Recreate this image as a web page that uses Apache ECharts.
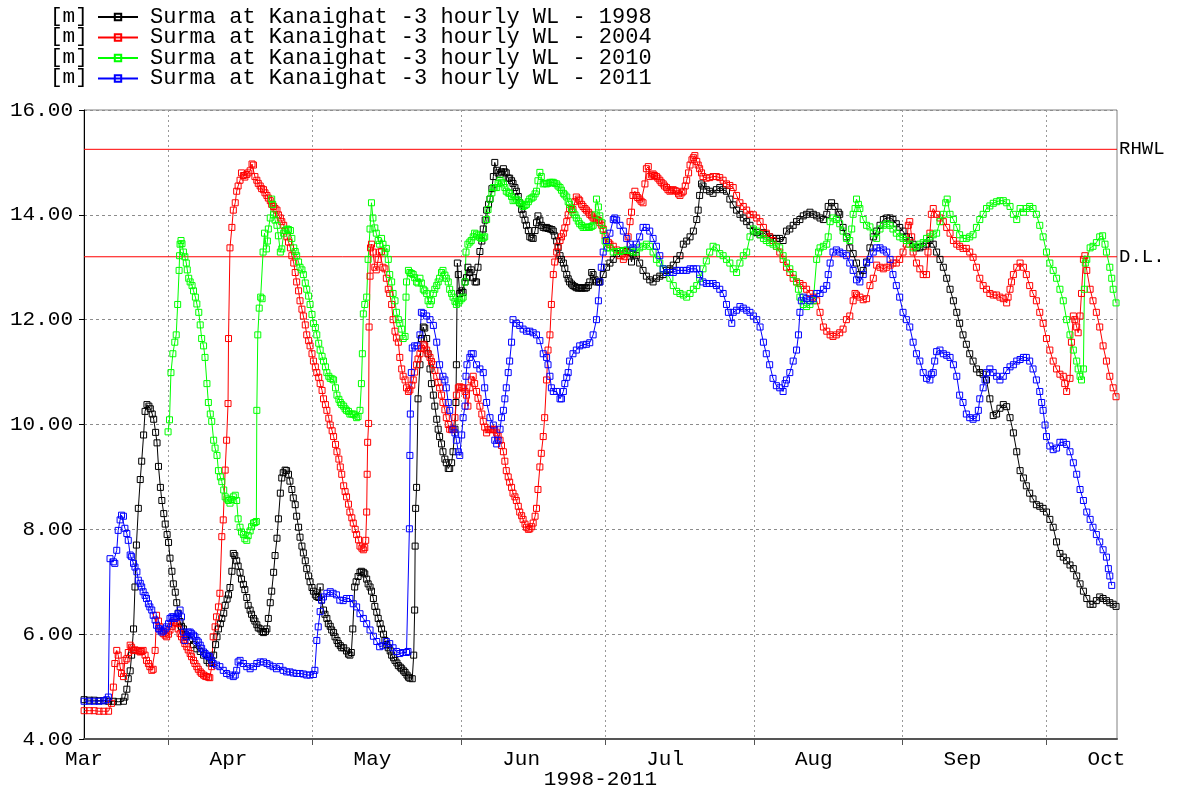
<!DOCTYPE html>
<html>
<head>
<meta charset="utf-8">
<title>Surma at Kanaighat - 3 hourly water level</title>
<script src="https://cdn.jsdelivr.net/npm/echarts@6/dist/echarts.min.js"></script>
<style>
  html, body { margin: 0; padding: 0; background: #ffffff; }
  #chart { width: 1178px; height: 792px; }
</style>
</head>
<body>
<div id="chart"></div>
<script>
// Time axis: days counted from 1 March (overlaid years 1998-2011)
const monthNames = ['Mar', 'Apr', 'May', 'Jun', 'Jul', 'Aug', 'Sep', 'Oct'];
const monthStartDays = [0, 31, 61, 92, 122, 153, 184, 214];
const gridDays = [18.5, 48.5, 79.5, 109.5, 140.5, 171.5, 201.5];
const dayRange = [0.875, 216.2];

// Reference levels [m]
const levelNames = ['RHWL', 'D.L.'];
const levelValues = [15.25, 13.2];
const levelColor = '#ff0000';

const seriesNames = [
  'Surma at Kanaighat -3 hourly WL - 1998',
  'Surma at Kanaighat -3 hourly WL - 2004',
  'Surma at Kanaighat -3 hourly WL - 2010',
  'Surma at Kanaighat -3 hourly WL - 2011'
];
const seriesColors = ['#000000', '#ff0000', '#00ff00', '#0000ff'];

// Water level [m] as [day, level]
const wl1998 = [
[0.9,4.75],[2,4.74],[3,4.74],[4,4.73],[5,4.73],[6,4.72],[7,4.72],[8,4.71],[9.1,4.72],[9.4,4.8],[9.8,4.95],[10.1,5.15],[10.5,5.3],[10.8,5.6],
[11.2,6.1],[11.5,6.9],[11.8,7.7],[12.2,8.4],[12.6,8.95],[12.9,9.3],[13.3,9.8],[13.6,10.25],[14.0,10.38],[14.4,10.35],[14.7,10.3],[15.1,10.2],
[15.4,10.1],[15.8,9.85],[16.1,9.65],[16.4,9.2],[16.8,8.8],[17.1,8.55],[17.5,8.3],[17.8,8.1],[18.2,7.9],[18.5,7.75],[18.8,7.45],[19.2,7.2],
[19.5,6.96],[19.9,6.8],[20.2,6.6],[20.5,6.4],[20.9,6.24],[21.2,6.15],[21.6,6.1],[22.0,6.0],[22.3,5.96],[22.9,5.88],[23.7,5.8],[24.4,5.72],
[25.1,5.67],[25.8,5.6],[26.5,5.5],[27.0,5.45],[27.5,5.45],[27.9,5.6],[28.3,5.8],[28.6,5.95],[28.9,6.1],[29.3,6.2],[29.6,6.3],[30.0,6.4],
[30.3,6.55],[30.7,6.67],[31.0,6.75],[31.3,6.89],[31.7,7.2],[32.0,7.54],[32.3,7.5],[32.7,7.4],[33.0,7.3],[33.4,7.18],[33.7,7.05],[34.1,6.95],
[34.4,6.85],[34.8,6.7],[35.1,6.55],[35.5,6.46],[35.8,6.38],[36.2,6.3],[36.5,6.25],[36.9,6.18],[37.2,6.12],[37.6,6.1],[38.0,6.05],[38.3,6.03],
[38.7,6.05],[39.0,6.1],[39.3,6.3],[39.7,6.6],[40.0,6.82],[40.4,7.18],[40.7,7.5],[41.1,7.83],[41.4,8.2],[41.8,8.69],[42.1,8.98],[42.4,9.08],
[42.8,9.13],[43.1,9.12],[43.5,9.05],[43.8,8.92],[44.2,8.76],[44.5,8.6],[44.9,8.47],[45.2,8.25],[45.6,8.04],[45.9,7.85],[46.3,7.68],[46.6,7.55],
[47.0,7.4],[47.3,7.25],[47.7,7.11],[48.0,7.0],[48.4,6.89],[48.7,6.82],[49.1,6.75],[49.4,6.72],[49.8,6.7],[50.1,6.9],[50.4,6.65],[50.8,6.46],
[51.1,6.38],[51.5,6.3],[51.8,6.2],[52.2,6.15],[52.5,6.08],[52.9,6.03],[53.2,5.95],[53.6,5.88],[53.9,5.82],[54.3,5.78],[54.6,5.74],[55.0,5.74],
[55.6,5.68],[56.0,5.62],[56.3,5.6],[56.6,5.65],[56.9,6.1],[57.3,6.9],[57.6,7.0],[58.0,7.1],[58.4,7.18],[58.7,7.2],[59.1,7.18],[59.4,7.15],
[59.8,7.05],[60.1,6.96],[60.5,6.9],[60.8,6.82],[61.2,6.68],[61.5,6.53],[61.9,6.42],[62.2,6.3],[62.6,6.2],[62.9,6.1],[63.3,6.0],[63.6,5.88],
[64.0,5.8],[64.3,5.74],[64.7,5.68],[65.0,5.6],[65.4,5.55],[65.7,5.5],[66.1,5.45],[66.4,5.4],[66.8,5.37],[67.1,5.34],[67.5,5.3],[67.8,5.27],
[68.2,5.22],[68.5,5.18],[68.8,5.16],[69.3,5.15],[69.6,5.6],[69.8,6.46],[69.9,7.68],[70.0,8.4],[70.2,8.8],[70.5,10.49],[70.9,11.14],[71.2,11.64],
[71.6,11.86],[71.9,11.84],[72.3,11.64],[72.6,11.35],[73.0,11.06],[73.3,10.78],[73.7,10.56],[74.0,10.35],[74.4,10.1],[74.7,9.91],[75.0,9.77],
[75.4,9.63],[75.7,9.48],[76.1,9.34],[76.4,9.27],[76.8,9.16],[77.1,9.16],[77.5,9.27],[77.8,9.48],[78.2,9.91],[78.4,10.42],[78.5,11.14],
[78.7,13.08],[78.9,12.86],[79.2,12.5],[79.6,12.55],[79.9,12.52],[80.3,12.72],[80.6,12.8],[80.9,13.0],[81.3,12.9],[81.6,12.95],[82.0,12.8],
[82.4,12.72],[82.7,12.72],[83.0,13.0],[83.4,13.3],[83.8,13.5],[84.1,13.73],[84.5,13.9],[84.8,14.09],[85.2,14.2],[85.5,14.3],[85.9,14.5],
[86.2,14.73],[86.5,15.0],[86.9,14.85],[87.2,14.8],[87.6,14.77],[87.9,14.82],[88.3,14.88],[88.6,14.82],[88.9,14.8],[89.3,14.7],[89.6,14.7],
[90.0,14.65],[90.3,14.6],[90.7,14.52],[91.0,14.45],[91.4,14.35],[91.7,14.23],[92.1,14.1],[92.4,14.01],[92.8,13.9],[93.1,13.8],[93.5,13.7],
[93.8,13.58],[94.2,13.56],[94.5,13.55],[94.9,13.7],[95.2,13.85],[95.5,13.98],[95.9,13.9],[96.2,13.8],[96.6,13.76],[97.0,13.75],[97.3,13.76],
[97.6,13.74],[98.0,13.73],[98.4,13.72],[98.7,13.69],[99.0,13.6],[99.4,13.5],[99.7,13.37],[100.1,13.22],[100.4,13.15],[100.8,13.08],[101.1,12.98],
[101.5,12.86],[101.8,12.78],[102.1,12.72],[102.5,12.68],[102.8,12.65],[103.2,12.63],[103.5,12.61],[103.9,12.6],[104.2,12.61],[104.6,12.6],
[104.9,12.61],[105.3,12.6],[105.6,12.61],[106.0,12.65],[106.3,12.72],[106.7,12.9],[107.0,12.86],[107.4,12.76],[107.7,12.72],[108.1,12.72],
[108.4,12.72],[109.1,12.86],[109.8,13.0],[110.5,13.08],[111.2,13.15],[111.9,13.26],[112.6,13.3],[113.3,13.32],[114.0,13.3],[114.7,13.28],
[115.0,13.1],[115.3,13.25],[116.0,13.22],[116.7,13.08],[117.4,12.94],[118.1,12.83],[118.8,12.76],[119.5,12.72],[120.2,12.79],[120.9,12.83],
[121.6,12.86],[122.3,12.94],[123.0,12.97],[123.7,13.04],[124.4,13.15],[125.1,13.22],[125.8,13.44],[126.5,13.5],[127.2,13.58],[127.9,13.69],
[128.6,13.91],[128.9,14.09],[129.2,14.37],[129.6,14.59],[129.9,14.55],[130.6,14.48],[131.3,14.45],[132.0,14.41],[132.7,14.48],[133.4,14.52],
[134.1,14.48],[134.8,14.45],[135.5,14.3],[136.2,14.19],[136.9,14.09],[137.6,14.01],[138.3,13.94],[139.0,13.87],[139.7,13.8],[140.4,13.69],
[141.1,13.66],[141.8,13.62],[142.5,13.66],[143.1,13.62],[143.8,13.58],[144.5,13.55],[145.2,13.55],[145.9,13.55],[146.6,13.51],[147.3,13.69],
[148.0,13.73],[148.7,13.8],[149.4,13.87],[150.1,13.91],[150.8,13.98],[151.5,14.01],[152.2,14.05],[152.9,14.01],[153.6,13.98],[154.3,13.94],
[155.0,13.91],[155.7,14.01],[156.0,14.16],[156.7,14.23],[157.4,14.16],[158.1,14.05],[158.4,14.01],[159.1,13.76],[159.8,13.58],[160.5,13.37],
[161.2,13.26],[161.9,13.08],[162.6,12.86],[163.3,12.94],[164.0,13.1],[164.7,13.37],[165.4,13.58],[166.1,13.69],[166.8,13.8],[167.5,13.91],
[168.2,13.94],[168.9,13.94],[169.5,13.91],[170.2,13.83],[170.9,13.76],[171.6,13.69],[172.3,13.58],[173.0,13.51],[173.7,13.44],[174.4,13.37],
[175.1,13.37],[175.8,13.4],[176.5,13.44],[177.2,13.51],[177.9,13.44],[178.6,13.29],[179.3,13.15],[180.0,13.0],[180.7,12.79],[181.4,12.58],
[182.1,12.36],[182.8,12.14],[183.4,11.93],[184.1,11.71],[184.8,11.53],[185.5,11.35],[186.2,11.21],[186.9,11.06],[187.6,10.99],[188.3,10.96],
[189.0,10.85],[189.7,10.49],[190.4,10.17],[191.1,10.2],[191.8,10.31],[192.5,10.38],[193.2,10.34],[193.9,10.13],[194.6,9.84],[195.3,9.48],
[196.0,9.12],[196.7,8.98],[197.3,8.83],[198.0,8.69],[198.7,8.58],[199.4,8.47],[200.1,8.44],[200.8,8.4],[201.5,8.33],[202.2,8.19],[202.9,8.04],
[203.6,7.76],[204.3,7.54],[205.0,7.47],[205.7,7.4],[206.4,7.32],[207.1,7.25],[207.8,7.11],[208.5,6.96],[209.2,6.82],[209.9,6.68],[210.6,6.57],
[211.2,6.57],[211.9,6.64],[212.6,6.71],[213.3,6.68],[214.0,6.64],[214.7,6.6],[215.4,6.57],[216.0,6.53]
];

const wl2004 = [
[0.9,4.54],[2,4.54],[3,4.54],[4,4.53],[5,4.53],[6,4.53],[6.6,4.68],[7.0,4.99],[7.3,5.44],[7.7,5.69],[8.0,5.6],[8.4,5.38],[8.7,5.25],[9.1,5.19],
[9.4,5.5],[9.8,5.53],[10.1,5.65],[10.5,5.79],[10.8,5.75],[11.2,5.69],[11.5,5.7],[11.9,5.69],[12.2,5.68],[12.6,5.66],[12.9,5.67],[13.2,5.69],
[13.6,5.6],[13.9,5.5],[14.3,5.44],[14.6,5.38],[15.0,5.31],[15.3,5.33],[15.7,5.69],[16.0,6.36],[16.4,6.25],[16.7,6.14],[17.1,6.06],[17.4,6.01],
[17.8,5.98],[18.1,5.95],[18.5,6.0],[18.8,6.08],[19.2,6.15],[19.5,6.23],[19.8,6.22],[20.2,6.2],[20.5,6.1],[20.9,6.01],[21.2,5.95],[21.6,5.89],
[21.9,5.82],[22.3,5.76],[22.6,5.7],[23.0,5.63],[23.3,5.57],[23.7,5.5],[24.0,5.44],[24.4,5.38],[24.7,5.33],[25.1,5.28],[25.4,5.25],[25.8,5.22],
[26.1,5.2],[26.4,5.19],[26.8,5.18],[27.1,5.17],[27.5,5.38],[27.8,5.95],[28.2,6.14],[28.5,6.33],[28.9,6.52],[29.2,6.78],[29.6,7.86],[29.9,8.18],
[30.3,9.13],[30.6,9.7],[30.9,10.4],[31.0,11.64],[31.3,13.37],[31.7,13.76],[32.0,14.09],[32.4,14.23],[32.7,14.45],[33.0,14.55],[33.4,14.66],
[33.7,14.8],[34.1,14.75],[34.4,14.72],[34.8,14.77],[35.1,14.8],[35.5,14.84],[35.9,14.97],[36.2,14.95],[36.5,14.73],[36.9,14.66],[37.2,14.6],
[37.6,14.55],[37.9,14.5],[38.3,14.48],[38.6,14.42],[39.0,14.37],[39.3,14.32],[39.7,14.27],[40.0,14.2],[40.4,14.16],[40.7,14.12],[41.1,14.09],
[41.4,14.0],[41.8,13.94],[42.1,13.87],[42.5,13.8],[42.8,13.7],[43.2,13.58],[43.5,13.48],[43.9,13.37],[44.2,13.22],[44.6,13.08],[44.9,12.9],
[45.2,12.72],[45.6,12.55],[45.9,12.36],[46.3,12.2],[46.6,12.07],[47.0,11.9],[47.3,11.71],[47.7,11.6],[48.0,11.5],[48.4,11.35],[48.7,11.21],
[49.1,11.1],[49.4,10.99],[49.8,10.9],[50.1,10.78],[50.5,10.65],[50.8,10.49],[51.2,10.38],[51.5,10.27],[51.9,10.12],[52.2,9.99],[52.6,9.88],
[52.9,9.77],[53.3,9.62],[53.6,9.48],[54.0,9.34],[54.3,9.19],[54.6,9.05],[55.0,8.83],[55.3,8.72],[55.6,8.62],[56.0,8.48],[56.3,8.33],[56.7,8.22],
[57.0,8.12],[57.4,8.0],[57.7,7.9],[58.1,7.8],[58.4,7.68],[58.8,7.64],[59.1,7.61],[59.4,7.65],[59.6,7.79],[59.8,8.33],[59.9,9.05],[60.0,9.66],
[60.2,10.02],[60.3,11.86],[60.5,12.83],[60.6,13.37],[60.8,13.44],[61.1,13.29],[61.5,13.0],[61.8,12.95],[62.2,13.15],[62.5,13.29],[62.9,13.3],
[63.2,13.0],[63.6,12.97],[63.9,12.79],[64.3,12.58],[64.6,12.5],[65.0,12.29],[65.3,12.0],[65.7,11.78],[66.0,11.65],[66.4,11.57],[66.7,11.28],
[67.1,11.06],[67.4,10.92],[67.8,10.85],[68.1,10.7],[68.5,10.63],[68.8,10.66],[69.2,10.75],[69.5,10.85],[69.8,11.0],[70.2,11.14],[70.5,11.25],
[70.9,11.35],[71.2,11.45],[71.6,11.53],[71.9,11.5],[72.3,11.42],[72.6,11.35],[73.0,11.28],[73.3,11.2],[73.7,11.14],[74.0,11.03],[74.4,10.92],
[74.7,10.8],[75.0,10.7],[75.4,10.56],[75.7,10.42],[76.1,10.28],[76.4,10.13],[76.8,10.0],[77.1,9.91],[77.5,9.9],[77.8,9.91],[78.2,10.13],
[78.5,10.56],[78.9,10.7],[79.2,10.72],[79.6,10.7],[79.9,10.7],[80.3,10.63],[80.6,10.56],[80.9,10.35],[81.3,10.7],[81.6,10.85],[82.0,10.92],
[82.3,10.78],[82.7,10.63],[83.0,10.5],[83.4,10.35],[83.8,10.2],[84.1,10.06],[84.4,9.95],[84.8,9.84],[85.1,9.9],[85.5,9.91],[85.9,9.9],
[86.2,9.91],[86.5,9.9],[86.9,9.84],[87.2,9.78],[87.6,9.7],[87.9,9.6],[88.3,9.48],[88.6,9.3],[88.9,9.12],[89.3,9.0],[89.6,8.9],[90.0,8.8],
[90.3,8.69],[90.7,8.62],[91.0,8.55],[91.4,8.44],[91.7,8.33],[92.1,8.26],[92.4,8.19],[92.8,8.1],[93.1,8.04],[93.5,8.0],[93.8,8.01],[94.2,8.05],
[94.5,8.12],[94.9,8.25],[95.2,8.4],[95.5,8.76],[95.9,9.19],[96.2,9.45],[96.6,9.77],[96.9,10.13],[97.3,10.85],[97.6,11.42],[98.0,11.71],
[98.3,12.29],[98.7,12.86],[99.0,13.1],[99.4,13.29],[99.7,13.4],[100.1,13.51],[100.4,13.58],[100.8,13.65],[101.1,13.75],[101.5,13.87],
[101.8,14.0],[102.1,14.12],[102.5,14.1],[102.8,14.1],[103.2,14.25],[103.5,14.34],[103.9,14.3],[104.2,14.27],[104.6,14.2],[104.9,14.16],
[105.3,14.12],[105.6,14.09],[106.0,14.05],[106.3,14.01],[106.7,13.98],[107.0,13.94],[107.4,13.92],[107.7,13.91],[108.1,13.89],[108.4,13.85],
[108.8,13.8],[109.1,13.73],[109.5,13.6],[109.8,13.51],[110.2,13.47],[110.5,13.44],[111.2,13.4],[111.9,13.33],[112.6,13.22],[113.3,13.15],
[113.6,13.2],[114.0,13.29],[114.3,13.58],[114.7,13.87],[115.0,14.05],[115.3,14.37],[115.7,14.45],[116.0,14.37],[116.3,14.33],[116.7,14.3],
[117.0,14.26],[117.4,14.23],[117.8,14.59],[118.1,14.88],[118.5,14.92],[118.8,14.73],[119.2,14.76],[119.5,14.78],[119.8,14.75],[120.2,14.73],
[120.5,14.7],[120.9,14.66],[121.2,14.62],[121.6,14.59],[121.9,14.55],[122.3,14.52],[122.6,14.48],[123.0,14.45],[123.3,14.47],[123.7,14.48],
[124.1,14.46],[124.4,14.45],[124.8,14.4],[125.1,14.37],[125.5,14.42],[125.8,14.45],[126.2,14.55],[126.5,14.66],[126.9,14.8],[127.2,14.95],
[127.6,15.05],[127.9,15.09],[128.2,15.13],[128.6,15.02],[128.9,14.95],[129.2,14.88],[129.6,14.8],[129.9,14.73],[130.6,14.7],[131.3,14.71],
[132.0,14.73],[132.7,14.73],[133.4,14.71],[134.1,14.66],[134.8,14.59],[135.5,14.56],[136.2,14.52],[136.9,14.37],[137.6,14.23],[138.3,14.16],
[139.0,14.09],[139.7,14.01],[140.4,14.0],[141.1,13.94],[141.8,13.87],[142.5,13.76],[143.1,13.65],[143.8,13.58],[144.5,13.51],[145.2,13.4],
[145.9,13.29],[146.6,13.15],[147.3,13.0],[148.0,12.9],[148.7,12.79],[149.4,12.72],[150.1,12.69],[150.8,12.65],[151.5,12.58],[152.2,12.5],
[152.9,12.43],[153.6,12.36],[154.3,12.14],[155.0,11.86],[155.7,11.78],[156.4,11.71],[157.0,11.68],[157.7,11.71],[158.4,11.75],[159.1,11.82],
[159.8,12.0],[160.5,12.07],[161.2,12.36],[161.6,12.5],[161.9,12.47],[162.6,12.43],[163.3,12.38],[164.0,12.4],[164.7,12.65],[165.4,12.79],
[166.1,13.04],[166.8,13.0],[167.5,12.97],[168.2,13.0],[168.9,13.04],[169.5,13.08],[170.2,13.08],[170.9,13.15],[171.6,13.29],[172.3,13.44],
[172.7,13.8],[173.0,13.87],[173.4,13.58],[173.7,13.29],[174.4,13.08],[175.1,12.97],[175.8,12.86],[176.5,12.86],[176.8,13.29],[177.2,13.65],
[177.5,14.01],[177.9,14.12],[178.6,14.01],[179.3,13.94],[180.0,13.87],[180.7,13.76],[181.4,13.65],[182.1,13.51],[182.8,13.44],[183.4,13.4],
[184.1,13.36],[184.8,13.36],[185.5,13.29],[186.2,13.19],[186.9,13.0],[187.6,12.79],[188.3,12.65],[189.0,12.58],[189.7,12.5],[190.4,12.47],
[191.1,12.47],[191.8,12.43],[192.5,12.4],[193.2,12.32],[193.5,12.43],[193.9,12.58],[194.2,12.72],[194.6,12.86],[195.3,13.0],[196.0,13.08],
[196.7,13.0],[197.3,12.86],[198.0,12.65],[198.7,12.5],[199.4,12.36],[200.1,12.14],[200.8,11.93],[201.5,11.64],[202.2,11.42],[202.9,11.21],
[203.6,11.06],[204.3,10.96],[205.0,10.92],[205.3,10.78],[205.7,10.63],[206.4,10.88],[206.7,11.57],[207.1,12.07],[207.4,12.0],[207.8,11.86],
[208.1,11.75],[208.5,12.07],[208.8,12.5],[209.2,13.15],[209.5,13.22],[209.9,12.94],[210.6,12.58],[211.2,12.36],[211.9,12.14],[212.6,11.86],
[213.3,11.5],[214.0,11.21],[214.7,10.92],[215.4,10.7],[216.0,10.53]
];

const wl2010 = [
[18.4,9.86],[18.7,10.09],[19.0,10.99],[19.4,11.35],[19.8,11.57],[20.1,11.71],[20.4,12.29],[20.7,12.94],[20.8,13.22],[20.9,13.44],[21.1,13.51],
[21.3,13.45],[21.6,13.29],[21.9,13.2],[22.2,13.08],[22.4,12.95],[22.7,12.79],[23.0,12.72],[23.4,12.65],[23.7,12.55],[24.1,12.43],[24.4,12.3],
[24.8,12.14],[25.1,11.9],[25.4,11.64],[25.8,11.5],[26.1,11.28],[26.5,10.78],[26.8,10.42],[27.2,10.2],[27.5,10.06],[27.9,9.7],[28.2,9.55],
[28.6,9.41],[28.9,9.12],[29.3,9.0],[29.6,8.91],[30.0,8.75],[30.3,8.62],[30.7,8.58],[31.0,8.55],[31.3,8.5],[31.7,8.57],[32.0,8.62],[32.4,8.65],
[32.7,8.55],[33.0,8.2],[33.4,8.04],[33.7,7.95],[34.1,7.9],[34.4,7.82],[34.8,7.79],[35.1,7.88],[35.5,7.97],[35.8,8.05],[36.2,8.12],[36.5,8.13],
[36.8,8.15],[36.9,10.27],[37.1,11.71],[37.4,12.22],[37.7,12.43],[38.0,12.4],[38.2,13.29],[38.5,13.65],[38.9,13.35],[39.1,13.5],[39.3,13.73],
[39.7,13.94],[40.0,14.3],[40.2,14.2],[40.4,14.0],[40.7,13.9],[41.1,13.8],[41.4,13.6],[41.8,13.29],[42.1,13.35],[42.5,13.65],[42.8,13.7],
[43.2,13.73],[43.5,13.72],[43.9,13.7],[44.2,13.55],[44.6,13.37],[44.9,13.3],[45.2,13.22],[45.6,13.1],[45.9,13.0],[46.3,12.95],[46.6,12.86],
[47.0,12.7],[47.3,12.58],[47.7,12.45],[48.0,12.29],[48.4,12.1],[48.7,11.93],[49.1,11.85],[49.4,11.71],[49.8,11.55],[50.1,11.42],[50.5,11.3],
[50.8,11.21],[51.2,11.1],[51.5,10.99],[51.9,10.92],[52.2,10.88],[52.6,10.87],[52.9,10.85],[53.3,10.7],[53.6,10.56],[54.0,10.48],[54.3,10.42],
[54.6,10.38],[55.0,10.35],[55.3,10.3],[55.6,10.27],[56.0,10.25],[56.3,10.2],[56.7,10.2],[57.0,10.2],[57.4,10.18],[57.7,10.13],[58.0,10.15],
[58.4,10.27],[58.7,10.78],[58.9,11.35],[59.1,12.11],[59.4,12.29],[59.8,12.43],[60.1,13.15],[60.5,13.73],[60.8,14.23],[61.1,13.94],[61.5,13.75],
[61.8,13.65],[62.2,13.51],[62.5,13.44],[62.9,13.55],[63.2,13.44],[63.6,13.29],[63.9,13.36],[64.3,13.15],[64.6,12.86],[65.0,12.72],[65.3,12.5],
[65.7,12.36],[66.0,12.14],[66.4,12.0],[66.7,11.93],[67.1,11.82],[67.4,11.64],[67.8,11.68],[68.0,12.43],[68.1,12.72],[68.5,12.94],[68.8,12.9],
[69.2,12.88],[69.5,12.86],[69.8,12.8],[70.2,12.72],[70.5,12.7],[70.9,12.79],[71.2,12.7],[71.6,12.58],[71.9,12.55],[72.3,12.5],[72.6,12.36],
[73.0,12.29],[73.3,12.36],[73.7,12.5],[74.0,12.58],[74.4,12.65],[74.7,12.72],[75.0,12.79],[75.4,12.9],[75.7,12.94],[76.1,12.85],[76.4,12.79],
[76.8,12.72],[77.1,12.58],[77.5,12.5],[77.8,12.43],[78.2,12.35],[78.5,12.29],[78.9,12.32],[79.2,12.36],[79.6,12.4],[79.9,12.43],[80.3,12.72],
[80.5,13.29],[80.9,13.44],[81.3,13.48],[81.6,13.51],[82.0,13.58],[82.3,13.65],[82.7,13.63],[83.0,13.6],[83.4,13.57],[83.7,13.55],[84.1,13.56],
[84.4,13.58],[84.8,13.91],[85.1,14.1],[85.5,14.3],[85.9,14.42],[86.2,14.52],[86.5,14.52],[86.9,14.52],[87.2,14.6],[87.6,14.66],[87.9,14.62],
[88.3,14.59],[88.6,14.52],[88.9,14.45],[89.3,14.42],[89.6,14.41],[90.0,14.35],[90.3,14.27],[90.7,14.28],[91.0,14.3],[91.4,14.27],[91.7,14.23],
[92.1,14.2],[92.4,14.16],[92.8,14.18],[93.1,14.2],[93.5,14.25],[93.8,14.3],[94.2,14.32],[94.5,14.34],[94.9,14.4],[95.2,14.45],[95.5,14.65],
[95.9,14.81],[96.2,14.73],[96.6,14.59],[96.9,14.6],[97.3,14.59],[97.6,14.6],[98.0,14.62],[98.4,14.62],[98.7,14.62],[99.0,14.6],[99.4,14.59],
[99.7,14.55],[100.1,14.52],[100.4,14.47],[100.8,14.41],[101.1,14.38],[101.5,14.34],[101.8,14.25],[102.1,14.2],[102.5,14.12],[102.8,14.05],
[103.2,14.0],[103.5,13.94],[103.9,13.88],[104.2,13.83],[104.6,13.8],[104.9,13.76],[105.3,13.76],[105.6,13.76],[106.0,13.77],[106.3,13.76],
[106.7,13.78],[107.0,13.8],[107.4,14.0],[107.7,14.3],[108.1,14.15],[108.4,13.98],[108.8,13.85],[109.1,13.7],[109.5,13.5],[109.8,13.37],
[110.5,13.37],[111.2,13.29],[111.9,13.3],[112.6,13.3],[113.3,13.32],[114.0,13.33],[114.7,13.32],[115.3,13.29],[116.0,13.29],[116.7,13.37],
[117.4,13.4],[118.1,13.44],[118.8,13.4],[119.5,13.29],[120.2,13.15],[120.9,13.08],[121.6,12.97],[122.3,12.9],[123.0,12.79],[123.7,12.65],
[124.4,12.54],[125.1,12.5],[125.8,12.47],[126.5,12.43],[127.2,12.5],[127.9,12.58],[128.6,12.65],[129.2,12.79],[129.9,12.97],[130.6,13.12],
[131.3,13.29],[132.0,13.4],[132.7,13.37],[133.4,13.26],[134.1,13.22],[134.8,13.15],[135.5,13.08],[136.2,12.97],[136.9,12.9],[137.6,13.08],
[138.3,13.22],[139.0,13.29],[139.7,13.58],[140.4,13.73],[141.1,13.69],[141.8,13.62],[142.5,13.55],[143.1,13.51],[143.8,13.47],[144.5,13.44],
[145.2,13.4],[145.9,13.37],[146.6,13.22],[147.3,13.08],[148.0,12.97],[148.7,12.86],[149.4,12.72],[149.8,12.58],[150.1,12.43],[150.8,12.29],
[151.5,12.25],[152.2,12.29],[152.9,12.36],[153.6,13.15],[154.0,13.29],[154.3,13.37],[155.0,13.4],[155.7,13.44],[156.0,13.58],[156.4,13.87],
[157.0,13.94],[157.7,13.91],[158.4,13.83],[159.1,13.69],[159.8,13.55],[160.5,13.51],[160.9,13.73],[161.2,14.01],[161.6,14.12],[161.9,14.3],
[162.3,14.2],[162.6,14.12],[163.3,13.91],[164.0,13.8],[164.7,13.77],[165.4,13.65],[166.1,13.55],[166.8,13.73],[167.5,13.8],[168.2,13.83],
[168.9,13.8],[169.5,13.73],[170.2,13.65],[170.9,13.58],[171.6,13.55],[172.3,13.51],[173.0,13.44],[173.7,13.37],[174.4,13.4],[175.1,13.44],
[175.8,13.47],[176.5,13.55],[177.2,13.58],[177.9,13.62],[178.6,13.65],[179.3,13.87],[180.0,14.01],[180.5,14.23],[180.8,14.3],[181.4,14.01],
[182.1,13.91],[182.8,13.76],[183.4,13.62],[184.1,13.55],[184.8,13.55],[185.5,13.58],[186.2,13.62],[186.9,13.76],[187.6,13.91],[188.3,14.01],
[189.0,14.12],[189.7,14.17],[190.4,14.22],[191.1,14.25],[191.8,14.27],[192.5,14.27],[193.2,14.23],[193.9,14.16],[194.6,14.01],[195.3,13.91],
[196.0,14.12],[196.7,14.05],[197.3,14.12],[198.0,14.16],[198.7,14.12],[199.4,14.01],[200.1,13.8],[200.8,13.58],[201.5,13.29],[202.2,13.08],
[202.9,12.94],[203.6,12.79],[204.3,12.58],[205.0,12.36],[205.7,12.0],[206.4,11.71],[207.1,11.42],[207.8,11.21],[208.1,11.06],[208.5,10.92],
[208.8,10.85],[209.2,11.06],[209.4,12.58],[209.6,13.08],[209.9,13.15],[210.6,13.37],[211.2,13.4],[211.9,13.47],[212.6,13.58],[213.2,13.6],
[213.7,13.44],[214.0,13.29],[214.7,13.0],[215.1,12.79],[215.4,12.58],[216.0,12.32]
];

const wl2011 = [
[0.9,4.72],[2,4.72],[3,4.72],[4,4.72],[5,4.73],[5.6,4.75],[5.95,4.8],[6.3,7.44],[7.0,7.38],[7.3,7.35],[7.7,7.6],[8.0,7.98],[8.4,8.18],
[8.7,8.27],[9.1,8.25],[9.4,8.02],[9.8,7.92],[10.1,7.79],[10.5,7.51],[10.8,7.48],[11.2,7.35],[11.5,7.28],[11.9,7.19],[12.2,7.03],[12.6,6.97],
[12.9,6.9],[13.2,6.81],[13.6,6.74],[13.9,6.68],[14.3,6.58],[14.6,6.52],[15.0,6.46],[15.3,6.36],[15.7,6.27],[16.0,6.17],[16.4,6.11],[16.7,6.08],
[17.1,6.04],[17.4,6.06],[17.8,6.1],[18.1,6.14],[18.5,6.2],[18.8,6.3],[19.2,6.33],[19.5,6.33],[19.8,6.3],[20.2,6.33],[20.5,6.39],[20.9,6.46],
[21.2,6.33],[21.6,6.04],[21.9,5.88],[22.3,5.95],[22.6,6.04],[23.0,6.04],[23.3,6.01],[23.7,5.98],[24.0,5.95],[24.4,5.88],[24.7,5.85],[25.1,5.79],
[25.4,5.73],[25.8,5.66],[26.1,5.63],[26.4,5.6],[26.8,5.58],[27.1,5.57],[27.5,5.5],[27.8,5.44],[28.5,5.41],[29.2,5.38],[29.9,5.31],[30.6,5.25],
[31.3,5.22],[32.0,5.19],[32.4,5.22],[32.7,5.31],[33.0,5.47],[33.4,5.5],[34.1,5.44],[34.8,5.38],[35.5,5.34],[36.2,5.38],[36.9,5.44],[37.6,5.47],
[38.3,5.47],[39.0,5.44],[39.6,5.41],[40.3,5.38],[41.0,5.34],[41.7,5.38],[42.4,5.31],[43.1,5.28],[43.8,5.28],[44.5,5.26],[45.2,5.25],[45.9,5.25],
[46.6,5.24],[47.3,5.22],[48.0,5.22],[48.7,5.23],[49.0,5.31],[49.4,5.88],[49.7,6.14],[50.1,6.43],[50.4,6.65],[50.8,6.71],[51.5,6.78],[52.2,6.81],
[52.8,6.78],[53.5,6.75],[54.2,6.65],[54.9,6.64],[55.6,6.68],[56.3,6.68],[57.0,6.58],[57.7,6.52],[58.4,6.39],[59.1,6.3],[59.8,6.2],[60.5,6.08],
[61.2,5.96],[61.9,5.86],[62.5,5.76],[63.2,5.78],[63.9,5.86],[64.6,5.82],[65.3,5.74],[66.0,5.67],[66.7,5.63],[67.4,5.65],[68.1,5.65],[68.4,5.67],
[68.7,8.01],[68.8,9.41],[68.9,10.2],[69.1,10.99],[69.3,11.46],[69.8,11.5],[70.3,11.5],[70.9,11.71],[71.2,12.14],[71.6,12.12],[72.3,12.07],
[73.0,12.0],[73.7,11.89],[74.4,11.57],[75.0,11.14],[75.7,10.92],[76.1,10.85],[76.4,10.7],[76.8,10.42],[77.1,10.27],[77.8,9.91],[78.2,9.84],
[78.5,9.7],[78.9,9.48],[79.2,9.41],[79.6,9.8],[79.9,10.13],[80.3,10.35],[80.5,10.92],[80.7,11.14],[81.3,11.28],[81.6,11.35],[82.0,11.35],
[82.7,11.14],[83.4,11.06],[84.1,10.99],[84.4,10.7],[84.8,10.42],[85.5,10.13],[86.2,9.99],[86.5,9.7],[86.9,9.63],[87.2,9.7],[87.6,9.91],
[87.9,10.13],[88.3,10.27],[88.6,10.49],[88.9,10.7],[89.3,10.99],[89.6,11.21],[90.0,11.57],[90.3,12.0],[91.0,11.93],[91.7,11.89],[92.4,11.82],
[93.1,11.78],[93.8,11.78],[94.5,11.75],[95.2,11.71],[95.9,11.6],[96.6,11.35],[97.3,11.28],[97.6,11.14],[98.0,10.92],[98.3,10.7],[98.7,10.63],
[99.4,10.63],[100.1,10.49],[100.4,10.49],[100.8,10.63],[101.1,10.78],[101.5,10.9],[101.8,10.99],[102.1,11.21],[102.8,11.35],[103.5,11.42],
[104.2,11.5],[104.9,11.52],[105.6,11.53],[106.3,11.56],[107.0,11.71],[107.7,12.0],[108.1,12.36],[108.4,12.72],[108.7,13.0],[109.1,13.29],
[109.8,13.51],[110.5,13.65],[111.2,13.91],[111.5,13.94],[111.9,13.9],[112.6,13.8],[113.3,13.69],[114.0,13.55],[114.7,13.44],[115.3,13.37],
[116.0,13.44],[116.7,13.58],[117.4,13.76],[118.1,13.76],[118.8,13.69],[119.5,13.55],[120.2,13.4],[120.9,13.22],[121.6,12.97],[122.3,12.9],
[123.0,12.9],[123.7,12.9],[124.4,12.94],[125.1,12.94],[125.8,12.94],[126.5,12.94],[127.2,12.97],[127.9,12.97],[128.6,12.97],[129.2,12.86],
[129.9,12.72],[130.6,12.69],[131.3,12.69],[132.0,12.69],[132.7,12.65],[133.4,12.58],[134.1,12.5],[134.8,12.29],[135.2,12.14],[135.9,11.93],
[136.2,12.14],[136.9,12.18],[137.6,12.25],[138.3,12.22],[139.0,12.18],[139.7,12.14],[140.4,12.07],[141.1,12.0],[141.8,11.86],[142.5,11.57],
[143.1,11.35],[143.8,11.14],[144.5,10.88],[145.2,10.74],[145.9,10.7],[146.6,10.63],[147.0,10.78],[147.3,10.85],[148.0,10.99],[148.7,11.21],
[149.4,11.42],[149.8,11.71],[150.1,12.14],[150.4,12.36],[150.8,12.43],[151.5,12.4],[152.2,12.36],[152.9,12.4],[153.6,12.5],[154.3,12.5],
[155.0,12.58],[155.7,12.65],[156.0,12.86],[156.4,13.08],[157.0,13.29],[157.7,13.33],[158.4,13.29],[159.1,13.26],[159.8,13.22],[160.5,13.08],
[161.2,12.94],[161.9,12.76],[162.6,12.72],[163.3,12.86],[164.0,13.08],[164.7,13.15],[165.4,13.29],[166.1,13.37],[166.8,13.37],[167.5,13.33],
[168.2,13.29],[168.9,13.15],[169.5,12.86],[170.2,12.65],[170.9,12.43],[171.6,12.14],[172.3,12.0],[173.0,11.86],[173.7,11.57],[174.4,11.35],
[175.1,11.21],[175.8,10.99],[176.5,10.88],[177.2,10.85],[177.5,10.96],[177.9,10.99],[178.2,11.21],[178.6,11.39],[179.3,11.42],[180.0,11.35],
[180.7,11.32],[181.4,11.28],[182.1,11.14],[182.8,10.92],[183.4,10.56],[184.1,10.42],[184.8,10.2],[185.5,10.13],[186.2,10.1],[186.9,10.13],
[187.3,10.27],[187.6,10.49],[188.3,10.7],[188.7,10.85],[189.0,10.99],[189.7,11.06],[190.4,10.99],[191.1,10.92],[191.8,10.85],[192.5,10.92],
[193.2,11.03],[193.9,11.1],[194.6,11.14],[195.3,11.21],[196.0,11.24],[196.7,11.28],[197.3,11.28],[198.0,11.21],[198.7,11.06],[199.4,10.85],
[200.1,10.63],[200.5,10.42],[200.8,10.27],[201.2,9.99],[201.5,9.77],[202.2,9.59],[202.9,9.52],[203.6,9.55],[204.3,9.66],[205.0,9.66],
[205.7,9.62],[206.4,9.48],[207.1,9.27],[207.8,9.05],[208.5,8.76],[209.2,8.55],[209.9,8.33],[210.6,8.19],[211.2,8.04],[211.9,7.9],[212.6,7.76],
[213.3,7.61],[214.0,7.47],[214.4,7.25],[214.7,7.11],[215.1,6.93]
];

const seriesData = [wl1998, wl2004, wl2010, wl2011];

const FONT = 'Liberation Mono';
const labelDays = monthStartDays.map(d => Math.max(d, dayRange[0]));

function monthLabel(v) {
  const i = labelDays.findIndex(d => Math.abs(d - v) < 1e-6);
  return i >= 0 ? monthNames[i] : '';
}

const chart = echarts.init(document.getElementById('chart'), null, { renderer: 'canvas' });

// Reference level lines across the full time range, labelled at their right end
const levelSeries = levelValues.map((v, k) => ({
  name: levelNames[k],
  type: 'line',
  data: [[dayRange[0], v], [dayRange[1], v]],
  color: levelColor,
  symbol: 'none',
  lineStyle: { color: levelColor, width: 1, type: 'solid' },
  endLabel: {
    show: true,
    formatter: () => levelNames[k],
    distance: 2,
    color: '#000',
    fontFamily: FONT,
    fontSize: 19
  },
  emphasis: { disabled: true },
  silent: true,
  animation: false
}));

const recordSeries = seriesNames.map((name, i) => ({
  name: name,
  type: 'line',
  data: seriesData[i],
  color: seriesColors[i],
  symbol: 'rect',
  symbolSize: 6,
  showAllSymbol: true,
  itemStyle: { color: 'rgba(255,255,255,0)', borderColor: seriesColors[i], borderWidth: 1 },
  lineStyle: { color: seriesColors[i], width: 1 },
  emphasis: { disabled: true },
  silent: true,
  animation: false
}));

chart.setOption({
  animation: false,
  backgroundColor: '#ffffff',
  title: {
    text: '[m]\n[m]\n[m]\n[m]',
    left: 50,
    top: 6,
    padding: 0,
    textStyle: { fontFamily: FONT, fontSize: 21, fontWeight: 'normal', color: '#000', lineHeight: 20.5 }
  },
  legend: {
    data: seriesNames,
    orient: 'vertical',
    left: 97,
    top: 6,
    padding: 0,
    itemGap: -1.5,
    itemWidth: 40,
    itemHeight: 8,
    selectedMode: false,
    textStyle: { fontFamily: FONT, fontSize: 22, color: '#000', lineHeight: 20, padding: [0, 0, 0, 7] }
  },
  grid: {
    left: 84, right: 61, top: 110, bottom: 53,
    outerBoundsMode: 'none',
    containLabel: false,
    show: true, borderColor: '#808080', borderWidth: 1, backgroundColor: 'transparent'
  },
  xAxis: {
    type: 'value',
    min: dayRange[0],
    max: dayRange[1],
    name: '1998-2011',
    nameLocation: 'middle',
    nameGap: 30,
    nameMoveOverlap: false,
    nameTextStyle: { fontFamily: FONT, fontSize: 21, color: '#000' },
    axisLine: { show: true, lineStyle: { color: '#555', width: 2 } },
    axisTick: { show: true, customValues: gridDays, length: 6, lineStyle: { color: '#555' } },
    axisLabel: {
      customValues: labelDays,
      formatter: monthLabel,
      fontFamily: FONT, fontSize: 21, color: '#000', margin: 10
    },
    splitLine: { show: true, lineStyle: { color: '#999', type: [2, 3], width: 1 } }
  },
  yAxis: {
    type: 'value',
    min: 4,
    max: 16,
    interval: 2,
    axisLine: { show: true, lineStyle: { color: '#000', width: 1 } },
    axisTick: { show: true, length: 5, lineStyle: { color: '#000' } },
    axisLabel: {
      formatter: v => v.toFixed(2),
      fontFamily: FONT, fontSize: 21, color: '#000', margin: 11
    },
    splitLine: { show: true, lineStyle: { color: '#8c8c8c', type: [3, 3], width: 1 } }
  },
  series: levelSeries.concat(recordSeries)
});
</script>
</body>
</html>
